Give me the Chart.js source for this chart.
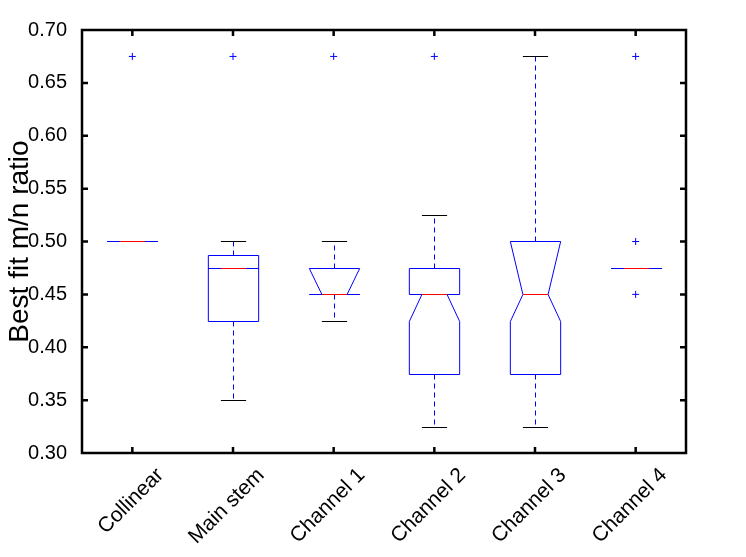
<!DOCTYPE html>
<html>
<head>
<meta charset="utf-8">
<script src="https://cdn.jsdelivr.net/npm/chart.js@4.4.0/dist/chart.umd.min.js"></script>
<style>
  html, body { margin: 0; padding: 0; background: #fff; }
</style>
</head>
<body>
<canvas id="boxChart" width="746" height="557"></canvas>
<script>
// groups on the x axis
const categories = ['Collinear', 'Main stem', 'Channel 1', 'Channel 2', 'Channel 3', 'Channel 4'];

// box statistics (m/n ratio)
const whiskerLow  = [0.50, 0.35,   0.425, 0.325, 0.325, 0.475];
const q1          = [0.50, 0.425,  0.45,  0.375, 0.375, 0.475];
const notchLow    = [0.50, 0.475,  0.45,  0.425, 0.425, 0.475];
const median      = [0.50, 0.475,  0.45,  0.45,  0.45,  0.475];
const notchHigh   = [0.50, 0.475,  0.475, 0.45,  0.50,  0.475];
const q3          = [0.50, 0.4875, 0.475, 0.475, 0.50,  0.475];
const whiskerHigh = [0.50, 0.50,   0.50,  0.525, 0.675, 0.475];
const outliers    = [[0.675], [0.675], [0.675], [0.675], [], [0.675, 0.50, 0.45]];

const yTicks = [0.30, 0.35, 0.40, 0.45, 0.50, 0.55, 0.60, 0.65, 0.70];

const BLUE = '#0000ff';
const RED = '#ff0000';
const FONT = "'Liberation Sans', Arial, sans-serif";

const outlierPoints = [];
outliers.forEach((list, i) => list.forEach(v => outlierPoints.push({ x: categories[i], y: v })));

// draws the notched boxes and whiskers with the chart scales
const boxPlugin = {
    id: 'notchedBoxes',
    afterDatasetsDraw(chart) {
        const { ctx, scales: { x, y } } = chart;
        const step = x.getPixelForValue(1) - x.getPixelForValue(0);
        const half = step * 0.25;       // box is half a category wide
        const inset = half / 2;         // notch depth
        const py = v => Math.round(y.getPixelForValue(v)) + 0.5;

        ctx.save();
        ctx.lineWidth = 1;
        categories.forEach((c, i) => {
            const cx = Math.round(x.getPixelForValue(i)) + 0.5;
            const L = cx - half, R = cx + half;

            // whiskers
            ctx.strokeStyle = BLUE;
            ctx.setLineDash([5, 4]);
            ctx.beginPath();
            ctx.moveTo(cx, py(q3[i])); ctx.lineTo(cx, py(whiskerHigh[i]));
            ctx.moveTo(cx, py(q1[i])); ctx.lineTo(cx, py(whiskerLow[i]));
            ctx.stroke();
            ctx.setLineDash([]);

            // caps
            ctx.strokeStyle = '#000';
            ctx.beginPath();
            ctx.moveTo(cx - half / 2, py(whiskerHigh[i])); ctx.lineTo(cx + half / 2, py(whiskerHigh[i]));
            ctx.moveTo(cx - half / 2, py(whiskerLow[i])); ctx.lineTo(cx + half / 2, py(whiskerLow[i]));
            ctx.stroke();

            // notched box
            ctx.strokeStyle = BLUE;
            ctx.beginPath();
            ctx.moveTo(L, py(q3[i]));
            ctx.lineTo(L, py(notchHigh[i]));
            ctx.lineTo(L + inset, py(median[i]));
            ctx.lineTo(L, py(notchLow[i]));
            ctx.lineTo(L, py(q1[i]));
            ctx.lineTo(R, py(q1[i]));
            ctx.lineTo(R, py(notchLow[i]));
            ctx.lineTo(R - inset, py(median[i]));
            ctx.lineTo(R, py(notchHigh[i]));
            ctx.lineTo(R, py(q3[i]));
            ctx.closePath();
            ctx.stroke();

            // median
            ctx.strokeStyle = RED;
            ctx.beginPath();
            ctx.moveTo(L + inset, py(median[i]));
            ctx.lineTo(R - inset, py(median[i]));
            ctx.stroke();
        });
        ctx.restore();
    }
};

// axes box with inward tick marks on all four sides
const framePlugin = {
    id: 'axesFrame',
    afterDraw(chart) {
        const { ctx, chartArea: a, scales: { x, y } } = chart;
        ctx.save();
        ctx.strokeStyle = '#000000';
        ctx.lineWidth = 2.5;
        ctx.beginPath();
        ctx.moveTo(a.left, a.top);
        ctx.lineTo(a.right, a.top);
        ctx.lineTo(a.right, a.bottom);
        ctx.lineTo(a.left, a.bottom);
        ctx.closePath();
        for (const v of yTicks) {
            const p = y.getPixelForValue(v);
            ctx.moveTo(a.left, p); ctx.lineTo(a.left + 6, p);
            ctx.moveTo(a.right, p); ctx.lineTo(a.right - 6, p);
        }
        for (let i = 0; i < categories.length; i++) {
            const p = x.getPixelForValue(i);
            ctx.moveTo(p, a.bottom); ctx.lineTo(p, a.bottom - 6);
            ctx.moveTo(p, a.top); ctx.lineTo(p, a.top + 6);
        }
        ctx.stroke();
        ctx.restore();
    }
};

new Chart(document.getElementById('boxChart'), {
    type: 'scatter',
    data: {
        labels: categories,
        datasets: [{
            label: 'Outliers',
            data: outlierPoints,
            pointStyle: 'cross',
            radius: 3.5,
            borderColor: BLUE,
            borderWidth: 1,
            backgroundColor: BLUE
        }]
    },
    options: {
        responsive: false,
        animation: false,
        layout: { padding: { left: 0, top: 30, right: 60, bottom: 0 } },
        plugins: { legend: { display: false }, tooltip: { enabled: false } },
        scales: {
            x: {
                type: 'category',
                labels: categories,
                offset: true,
                grid: { display: false },
                border: { display: false },
                ticks: {
                    autoSkip: false,
                    minRotation: 45,
                    maxRotation: 45,
                    labelOffset: 28,
                    padding: 2,
                    color: '#000',
                    font: { family: FONT, size: 21 }
                },
                afterFit: s => { s.height = 104; }
            },
            y: {
                min: 0.30,
                max: 0.70,
                grid: { display: false },
                border: { display: false },
                ticks: {
                    stepSize: 0.05,
                    padding: 7,
                    color: '#000',
                    font: { family: FONT, size: 20 },
                    callback: v => v.toFixed(2)
                },
                title: {
                    display: true,
                    text: 'Best fit m/n ratio',
                    color: '#000',
                    font: { family: FONT, size: 28 },
                    padding: { top: 3, bottom: 0 }
                },
                afterFit: s => { s.width = 82; }
            }
        }
    },
    plugins: [boxPlugin, framePlugin]
});
</script>
</body>
</html>
